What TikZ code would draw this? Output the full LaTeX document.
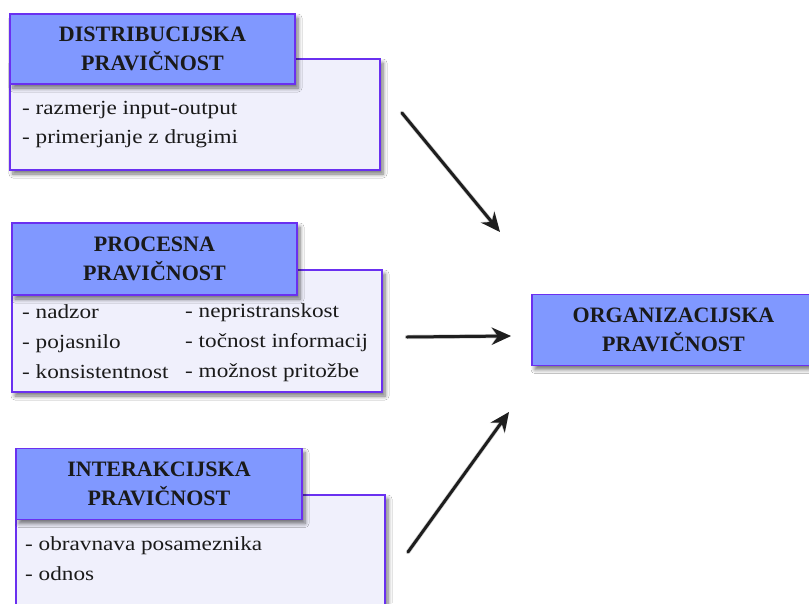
\documentclass[tikz,border=0pt]{standalone}
\usepackage{fontspec}
\setmainfont{Liberation Serif}
\newfontfamily\bodyfont[FakeStretch=1.16]{Liberation Serif}
\usetikzlibrary{arrows.meta,shadows.blur}

\definecolor{headfill}{HTML}{8098FF}
\definecolor{edgeink}{HTML}{6A30F0}
\definecolor{bodyfill}{HTML}{F0F0FC}
\definecolor{arrowink}{HTML}{1E1E1E}
\definecolor{textink}{HTML}{1A1A1A}

\tikzset{
  softshadow/.style={blur shadow={shadow xshift=3pt, shadow yshift=-4pt,
      shadow blur steps=6, shadow blur radius=4pt, shadow opacity=55}},
  headbox/.style={draw=edgeink, line width=1.6pt, fill=headfill, inner sep=0pt,
      align=center, text=textink, font=\fontsize{22}{29.5}\selectfont\bfseries, softshadow},
  bodybox/.style={draw=edgeink, line width=1.6pt, fill=bodyfill, inner sep=0pt, softshadow},
  item/.style={anchor=base west, inner sep=0pt, text=textink,
      font=\bodyfont\fontsize{20}{24}\selectfont},
  flow/.style={draw=arrowink, line width=3pt, line cap=round,
      -{Stealth[length=19pt, width=17pt, inset=6pt]}},
  flowshade/.style={draw=black, opacity=0.18, line width=4.4pt, line cap=round,
      -{Stealth[length=20pt, width=18pt, inset=6pt]}}
}

\begin{document}
\begin{tikzpicture}[x=1pt, y=-1pt]
  \clip (0,0) rectangle (809,603);
  \fill[white] (0,0) rectangle (809,603);

  % distributive justice
  \node[bodybox, minimum width=370pt, minimum height=111pt] (distbody) at (195,114.5) {};
  \node[headbox, minimum width=285pt, minimum height=70pt] (disthead) at (152.5,49)
    {DISTRIBUCIJSKA\\PRAVIČNOST};
  \node[item] (d1) at (22,114) {- razmerje input-output};
  \node[item] (d2) at (22,143) {- primerjanje z drugimi};

  % procedural justice
  \node[bodybox, minimum width=370pt, minimum height=122pt] (procbody) at (197,331) {};
  \node[headbox, minimum width=285pt, minimum height=72pt] (prochead) at (154.5,259)
    {PROCESNA\\PRAVIČNOST};
  \node[item] (p1) at (22,318) {- nadzor};
  \node[item] (p2) at (22,348) {- pojasnilo};
  \node[item] (p3) at (22,378) {- konsistentnost};
  \node[item] (p4) at (185,317) {- nepristranskost};
  \node[item] (p5) at (185,347) {- točnost informacij};
  \node[item] (p6) at (185,377) {- možnost pritožbe};

  % interactional justice
  \node[bodybox, minimum width=369pt, minimum height=145pt] (intbody) at (200.5,567.5) {};
  \node[headbox, minimum width=286pt, minimum height=71pt] (inthead) at (159,484)
    {INTERAKCIJSKA\\PRAVIČNOST};
  \node[item] (i1) at (25,550) {- obravnava posameznika};
  \node[item] (i2) at (25,580) {- odnos};

  % organisational justice
  \node[headbox, minimum width=283pt, minimum height=71pt] (org) at (673.5,330)
    {ORGANIZACIJSKA\\PRAVIČNOST};

  % arrows towards the organisational box
  \coordinate (a1s) at (402,113);  \coordinate (a1e) at (500,232);
  \coordinate (a2s) at (407,337);  \coordinate (a2e) at (511,336);
  \coordinate (a3s) at (408,552);  \coordinate (a3e) at (509,412);
  \begin{scope}[xshift=2pt, yshift=-3pt]
    \draw[flowshade] (a1s) -- (a1e);
    \draw[flowshade] (a2s) -- (a2e);
    \draw[flowshade] (a3s) -- (a3e);
  \end{scope}
  \draw[flow] (a1s) -- (a1e);
  \draw[flow] (a2s) -- (a2e);
  \draw[flow] (a3s) -- (a3e);
\end{tikzpicture}
\end{document}
